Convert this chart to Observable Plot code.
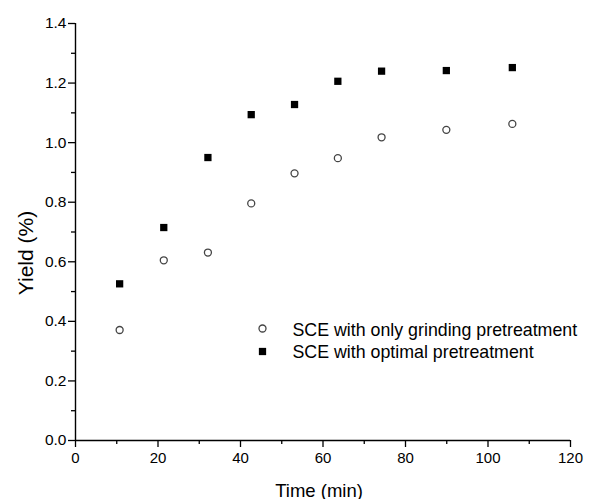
<!DOCTYPE html>
<html>
<head>
<meta charset="utf-8">
<script src="https://cdn.jsdelivr.net/npm/d3@7"></script>
<script src="https://cdn.jsdelivr.net/npm/@observablehq/plot@0.6"></script>
<style>
  html, body { margin: 0; padding: 0; background: #fff; }
  #chart svg { display: block; }
</style>
</head>
<body>
<div id="chart"></div>
<script>
// Data (x positions as they sit on the drawn axis)
const time = [10.7, 21.4, 32.1, 42.6, 53.1, 63.6, 74.2, 89.9, 105.9];
const grindingOnly = [0.371, 0.605, 0.631, 0.796, 0.897, 0.948, 1.018, 1.043, 1.063];
const optimal = [0.526, 0.715, 0.950, 1.094, 1.128, 1.206, 1.240, 1.242, 1.252];
const seriesNames = ["SCE with only grinding pretreatment", "SCE with optimal pretreatment"];
const xMajorTicks = [0, 20, 40, 60, 80, 100, 120];
const xMinorTicks = [10, 30, 50, 70, 90, 110];
const yMajorTicks = [0, 0.2, 0.4, 0.6, 0.8, 1.0, 1.2, 1.4];
const yMinorTicks = [0.1, 0.3, 0.5, 0.7, 0.9, 1.1, 1.3];
const xLabel = "Time (min)";
const yLabel = "Yield (%)";

const circles = time.map((t, i) => ({t, v: grindingOnly[i]}));
const squares = time.map((t, i) => ({t, v: optimal[i]}));

const font = "'Liberation Sans', Arial, Helvetica, sans-serif";

const chart = Plot.plot({
  width: 610,
  height: 499,
  marginLeft: 75,
  marginRight: 40,
  marginTop: 23,
  marginBottom: 59,
  style: {fontFamily: font, fontSize: "15px", color: "#000", background: "#fff"},
  x: {domain: [0, 120]},
  y: {domain: [0, 1.4]},
  marks: [
    Plot.axisX({ticks: xMajorTicks, tickSize: 7, tickPadding: 5, fontSize: 15, label: null, strokeWidth: 1.3, tickFormat: d => String(d)}),
    Plot.axisX({ticks: xMinorTicks, tickSize: 4, tickFormat: () => "", label: null, strokeWidth: 1.3}),
    Plot.axisY({ticks: yMajorTicks, tickSize: 7, tickPadding: 2, fontSize: 15.5, label: null, strokeWidth: 1.3, tickFormat: d3.format(".1f")}),
    Plot.axisY({ticks: yMinorTicks, tickSize: 4, tickFormat: () => "", label: null, strokeWidth: 1.3}),
    Plot.ruleX([0], {stroke: "#000", strokeWidth: 1.4}),
    Plot.ruleY([0], {stroke: "#000", strokeWidth: 1.4}),
    Plot.dot(circles, {x: "t", y: "v", symbol: "circle", r: 3.5, stroke: "#444", strokeWidth: 1.3, fill: "none"}),
    Plot.dot(squares, {x: "t", y: "v", symbol: "square", r: 4.1, fill: "#000", stroke: "none"}),
    // legend
    Plot.dot([seriesNames[0]], {frameAnchor: "top-left", dx: 187, dy: 305, symbol: "circle", r: 3.5, stroke: "#444", strokeWidth: 1.3, fill: "none"}),
    Plot.dot([seriesNames[1]], {frameAnchor: "top-left", dx: 187, dy: 328, symbol: "square", r: 4.1, fill: "#000", stroke: "none"}),
    Plot.text([seriesNames[0]], {text: d => d, frameAnchor: "top-left", dx: 217, dy: 307, textAnchor: "start", lineAnchor: "middle", fontSize: 17.8, fill: "#000"}),
    Plot.text([seriesNames[1]], {text: d => d, frameAnchor: "top-left", dx: 217, dy: 329, textAnchor: "start", lineAnchor: "middle", fontSize: 17.8, fill: "#000"}),
    // axis titles
    Plot.text([xLabel], {text: d => d, frameAnchor: "bottom", textAnchor: "middle", dx: -4, dy: 56, lineAnchor: "bottom", fontSize: 18.5, fill: "#000"}),
    Plot.text([yLabel], {text: d => d, frameAnchor: "left", textAnchor: "middle", dx: -49, dy: 21, rotate: -90, lineAnchor: "middle", fontSize: 21, fill: "#000"})
  ]
});
document.getElementById("chart").appendChild(chart);
</script>
</body>
</html>
